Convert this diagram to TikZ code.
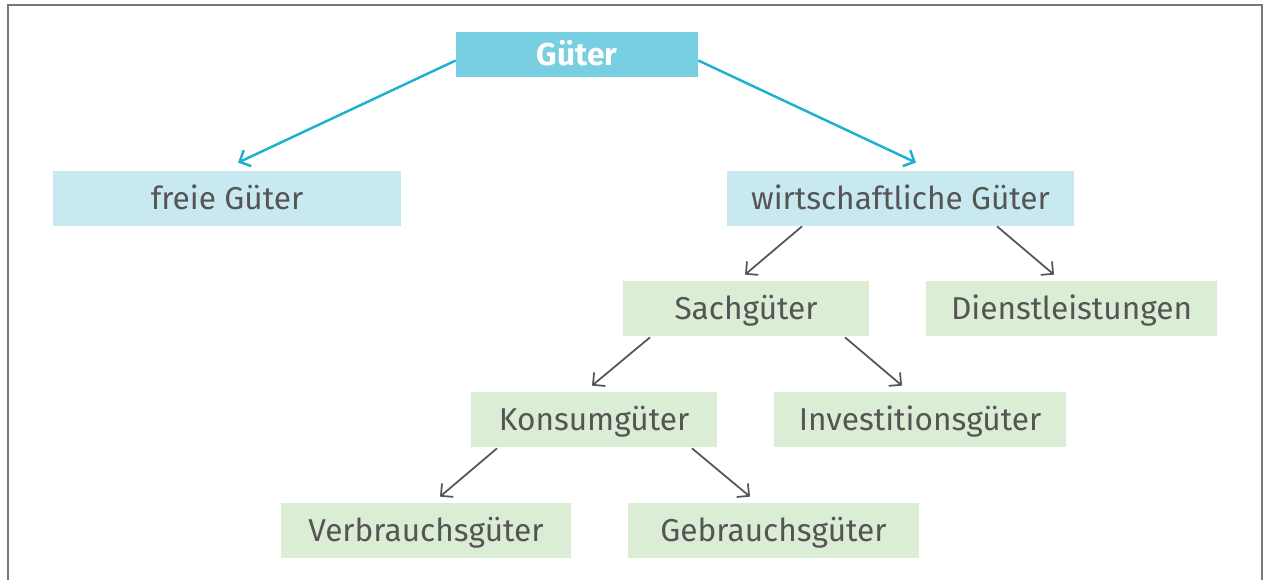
\documentclass[tikz,border=0pt]{standalone}
\usepackage{fontspec}
\setmainfont{Fira Sans}
\usetikzlibrary{arrows.meta,calc}
\definecolor{headblue}{HTML}{77CFE1}
\definecolor{paleblue}{HTML}{C9E9F1}
\definecolor{palegreen}{HTML}{DCEDD6}
\definecolor{linecyan}{HTML}{1BB1D0}
\definecolor{textgray}{HTML}{555555}
\definecolor{framegray}{HTML}{777777}
\begin{document}
\begin{tikzpicture}[x=0.02cm,y=-0.02cm,
  box/.style={rectangle, inner sep=0pt, text=textgray, text height=16pt, text depth=3.5pt,
    font=\fontsize{18}{21}\selectfont},
  head/.style={box, fill=headblue, text=white, text height=15.5pt, font=\fontsize{18}{21}\selectfont\bfseries,
    minimum width=242*0.02cm, minimum height=45*0.02cm},
  bluebox/.style={box, fill=paleblue, minimum height=55*0.02cm},
  greenbox/.style={box, fill=palegreen, minimum height=55*0.02cm},
  toparrow/.style={draw=linecyan, line width=1.4pt, -{Straight Barb[length=5pt,width=10pt,line width=1.4pt]}},
  subarrow/.style={draw=textgray, line width=1pt, -{Straight Barb[length=5pt,width=10pt,line width=1pt]}}]
  \useasboundingbox (0,0) rectangle (1267,580);
  \clip (0,0) rectangle (1267,580);
  \draw[framegray, line width=1.4pt] (8,5) rectangle (1262,620);
  % boxes
  \node (gueter) [head] at (577,54.5) {Güter};
  \node (freie) [bluebox, minimum width=348*0.02cm] at (227,198.5) {freie Güter};
  \node (wirt) [bluebox, minimum width=347*0.02cm] at (900.5,198.5) {wirtschaftliche Güter};
  \node (sach) [greenbox, minimum width=246*0.02cm] at (746,308.5) {Sachgüter};
  \node (dienst) [greenbox, minimum width=291*0.02cm] at (1071.5,308.5) {Dienstleistungen};
  \node (konsum) [greenbox, minimum width=246*0.02cm] at (594,419.5) {Konsumgüter};
  \node (invest) [greenbox, minimum width=292*0.02cm] at (920,419.5) {Investitionsgüter};
  \node (verbrauch) [greenbox, minimum width=290*0.02cm] at (426,530.5) {Verbrauchsgüter};
  \node (gebrauch) [greenbox, minimum width=291*0.02cm] at (773.5,530.5) {Gebrauchsgüter};
  % arrows
  \draw[toparrow] ($(gueter.west)+(0,6)$) -- ($(freie.north)+(11,-8)$);
  \draw[toparrow] ($(gueter.east)+(0,6)$) -- ($(wirt.north)+(15.5,-8)$);
  \draw[subarrow] ($(wirt.south)+(-98.5,0)$) -- ($(sach.north)+(-1,-6)$);
  \draw[subarrow] ($(wirt.south)+(96.5,0)$) -- ($(dienst.north)+(-17.5,-6)$);
  \draw[subarrow] ($(sach.south)+(-96,1)$) -- ($(konsum.north)+(-2,-6)$);
  \draw[subarrow] ($(sach.south)+(99,1)$) -- ($(invest.north)+(-18,-6)$);
  \draw[subarrow] ($(konsum.south)+(-97,1)$) -- ($(verbrauch.north)+(14,-6)$);
  \draw[subarrow] ($(konsum.south)+(98,1)$) -- ($(gebrauch.north)+(-23.5,-6)$);
\end{tikzpicture}
\end{document}
